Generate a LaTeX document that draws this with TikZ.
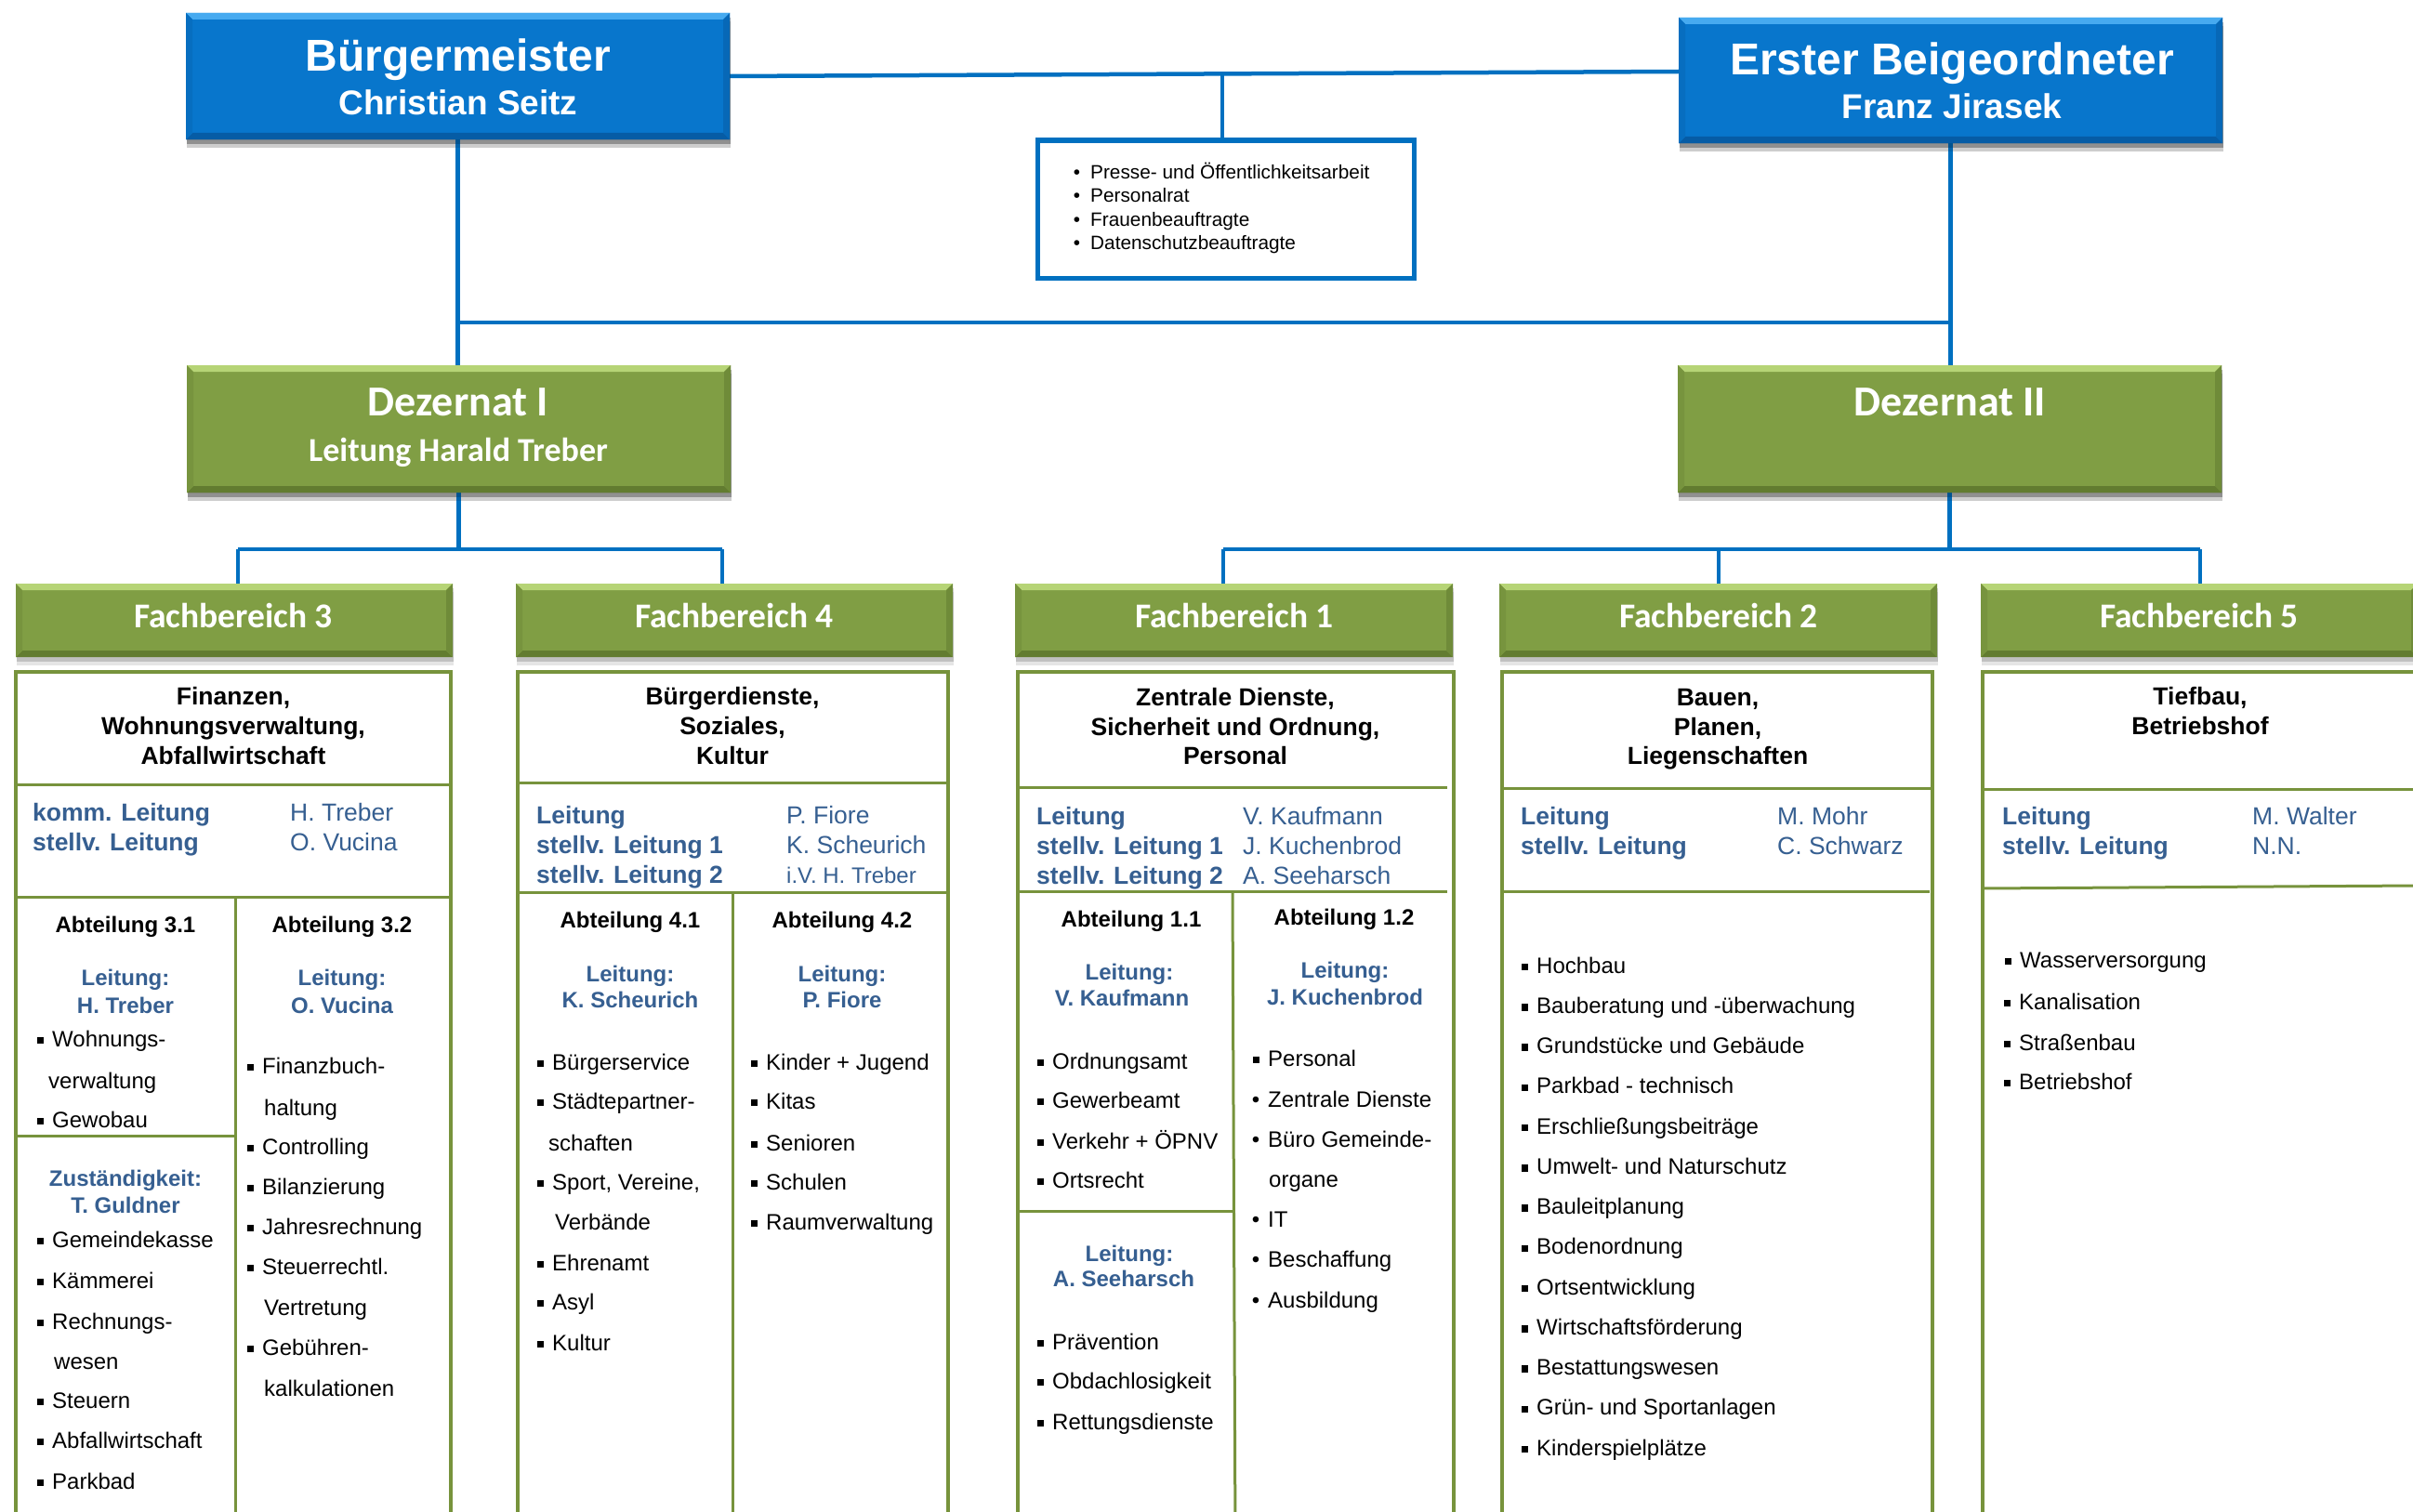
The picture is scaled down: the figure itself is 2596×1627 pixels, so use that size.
\documentclass[tikz,border=0pt]{standalone}
\usepackage{fontspec}
\setmainfont{Liberation Sans}
\newfontfamily\calf{Carlito}
\usetikzlibrary{calc,shadows}

\definecolor{blueF}{RGB}{8,118,204}
\definecolor{blueL}{RGB}{70,170,240}
\definecolor{blueD}{RGB}{6,92,165}
\definecolor{greenF}{RGB}{128,158,68}
\definecolor{greenL}{RGB}{182,212,118}
\definecolor{greenD}{RGB}{98,124,48}
\definecolor{lineblue}{RGB}{0,112,192}
\definecolor{bgreen}{RGB}{119,147,60}
\definecolor{ldblue}{RGB}{54,95,145}

\newcommand{\fbig}{\fontsize{48}{48}\selectfont\bfseries}
\newcommand{\fmid}{\fontsize{37}{37}\selectfont\bfseries}
\newcommand{\fdz}{\calf\fontsize{46}{46}\selectfont\bfseries}
\newcommand{\fdzb}{\calf\fontsize{36}{36}\selectfont\bfseries}
\newcommand{\ffb}{\calf\fontsize{37.5}{37.5}\selectfont\bfseries}
\newcommand{\fsm}{\fontsize{20.8}{20.8}\selectfont}
\newcommand{\fttl}{\fontsize{26.5}{26.5}\selectfont\bfseries}
\newcommand{\fldr}{\fontsize{26.5}{26.5}\selectfont}
\newcommand{\fitm}{\fontsize{24}{24}\selectfont}
\newcommand{\fabt}{\fontsize{24}{24}\selectfont\bfseries}
\newcommand{\sq}{\llap{\rule[2.6pt]{7.5pt}{7.5pt}\hspace{9pt}}}
\newcommand{\rb}{\llap{•\hspace{9pt}}}
\newcommand{\pb}{\llap{•\hspace{11pt}}}

\begin{document}
\begin{tikzpicture}[x=1pt,y=-1pt,
  bev/.style n args={3}{fill=#1, draw=none, path picture={
    \fill[#2] (path picture bounding box.north west) -- (path picture bounding box.north east)
      -- ([xshift=-7pt,yshift=-7pt]path picture bounding box.north east)
      -- ([xshift=7pt,yshift=-7pt]path picture bounding box.north west) -- cycle;
    \fill[#3] (path picture bounding box.south west) -- (path picture bounding box.south east)
      -- ([xshift=-7pt,yshift=7pt]path picture bounding box.south east)
      -- ([xshift=7pt,yshift=7pt]path picture bounding box.south west) -- cycle;
    \fill[#3!55!#1] (path picture bounding box.north east) -- (path picture bounding box.south east)
      -- ([xshift=-7pt,yshift=7pt]path picture bounding box.south east)
      -- ([xshift=-7pt,yshift=-7pt]path picture bounding box.north east) -- cycle;
    \fill[#3!30!#1] (path picture bounding box.north west) -- (path picture bounding box.south west)
      -- ([xshift=7pt,yshift=7pt]path picture bounding box.south west)
      -- ([xshift=7pt,yshift=-7pt]path picture bounding box.north west) -- cycle;
  }},
  shad/.style={drop shadow={shadow xshift=1pt, shadow yshift=-9pt, opacity=0.10, fill=black},
               drop shadow={shadow xshift=1pt, shadow yshift=-5pt, opacity=0.16, fill=black}},
  bluebox/.style={rectangle, inner sep=0pt, shad, bev={blueF}{blueL}{blueD}},
  greenbox/.style={rectangle, inner sep=0pt, shad, bev={greenF}{greenL}{greenD}},
  cbox/.style={rectangle, inner sep=0pt, draw=bgreen, line width=3.5pt, fill=white},
  pbox/.style={rectangle, inner sep=0pt, draw=lineblue, line width=5pt, fill=white},
  conn/.style={draw=lineblue, line width=4.5pt},
  sepl/.style={draw=bgreen, line width=3pt},
  tx/.style={inner sep=0pt, anchor=base west, text=black},
  tc/.style={inner sep=0pt, anchor=base, text=black},
  ttl/.style={tc, font=\fttl},
  ldl/.style={tx, font=\fttl, text=ldblue},
  ldn/.style={tx, font=\fldr, text=ldblue},
  abt/.style={tc, font=\fabt},
  lei/.style={tc, font=\fabt, text=ldblue},
  itm/.style={tx, font=\fitm},
  hd/.style={tc, text=white},
]
\useasboundingbox (0,0) rectangle (2596,1627);
\clip (0,0) rectangle (2596,1627);
\fill[white] (0,0) rectangle (2596,1627);

% ---------- coordinates ----------
\coordinate (h1) at (0,347);
\coordinate (pj) at (1315,79.4);
\coordinate (j3) at (256,591);
\coordinate (j4) at (777,591);
\coordinate (j1) at (1316,591);
\coordinate (j2) at (1849,591);
\coordinate (j5) at (2367,591);

% ---------- nodes (boxes) ----------
\path
  (492.5,82)   node[bluebox, minimum width=585pt, minimum height=136pt] (bm) {}
  (2098.5,86.5) node[bluebox, minimum width=585pt, minimum height=135pt] (eb) {}
  (493.5,461.5) node[greenbox, minimum width=585pt, minimum height=137pt] (d1) {}
  (2097.5,461.5) node[greenbox, minimum width=585pt, minimum height=137pt] (d2) {};

% ---------- connectors ----------
\draw[conn] (bm.east) -- ($(eb.west)+(0,-9.5)$);
\draw[conn] (bm.south) -- (bm.south |- d1.north);
\draw[conn] (eb.south) -- (eb.south |- d2.north);
\draw[conn] (bm.south |- h1) -- (eb.south |- h1);
\draw[conn] (d1.south) -- (d1.south |- j3);
\draw[conn] (d2.south) -- (d2.south |- j1);
\draw[conn] (j3) -- (j4);
\draw[conn] (j1) -- (j5);

\node[pbox, minimum width=405pt, minimum height=148pt] (pr) at (1319,225) {};
\draw[conn] (pj) -- (pj |- pr.north);

\path
  (252,667.5)  node[greenbox, minimum width=470pt, minimum height=79pt] (fb3) {}
  (790,667.5)  node[greenbox, minimum width=470pt, minimum height=79pt] (fb4) {}
  (1327.5,667.5) node[greenbox, minimum width=471pt, minimum height=79pt] (fb1) {}
  (1848.5,667.5) node[greenbox, minimum width=471pt, minimum height=79pt] (fb2) {}
  (2366,667.5) node[greenbox, minimum width=470pt, minimum height=79pt] (fb5) {};
\draw[conn] (j3) -- (j3 |- fb3.north);
\draw[conn] (j4) -- (j4 |- fb4.north);
\draw[conn] (j1) -- (j1 |- fb1.north);
\draw[conn] (j2) -- (j2 |- fb2.north);
\draw[conn] (j5) -- (j5 |- fb5.north);

% redraw boxes on top of connector ends
\path
  (492.5,82)   node[bluebox, minimum width=585pt, minimum height=136pt] (bmx) {}
  (2098.5,86.5) node[bluebox, minimum width=585pt, minimum height=135pt] (ebx) {}
  (493.5,461.5) node[greenbox, minimum width=585pt, minimum height=137pt] (d1x) {}
  (2097.5,461.5) node[greenbox, minimum width=585pt, minimum height=137pt] (d2x) {};

% ---------- content boxes ----------
\node[cbox, minimum width=468pt, minimum height=937pt] (cb3) at (251,1191.5) {};
\node[cbox, minimum width=463pt, minimum height=937pt] (cb4) at (788.5,1191.5) {};
\node[cbox, minimum width=469pt, minimum height=937pt] (cb1) at (1329.5,1191.5) {};
\node[cbox, minimum width=463pt, minimum height=937pt] (cb2) at (1847.5,1191.5) {};
\node[cbox, minimum width=477pt, minimum height=937pt] (cb5) at (2371.5,1191.5) {};

% separators
\draw[sepl] (17,844) -- (485,844);
\draw[sepl] (17,965) -- (485,965);
\draw[sepl] (253,965) -- (253,1660);
\draw[sepl] (17,1222) -- (253,1222);
\draw[sepl] (557,842) -- (1020,842);
\draw[sepl] (557,960) -- (1020,960);
\draw[sepl] (788,960) -- (788,1660);
\draw[sepl] (1095,847) -- (1557,847);
\draw[sepl] (1095,959) -- (1557,959);
\draw[sepl] (1326,959) -- (1329,1660);
\draw[sepl] (1095,1303) -- (1326,1303);
\draw[sepl] (1616,848) -- (2079,848);
\draw[sepl] (1616,959) -- (2076,959);
\draw[sepl] (2133,849) -- (2600,849);
\draw[sepl] (2133,956) -- (2600,953);

% ---------- header texts ----------
\node[hd, font=\fbig] (bmt1) at (493,77) {Bürgermeister};
\node[hd, font=\fmid] (bmt2) at (493,124) {Christian Seitz};
\node[hd, font=\fbig] (ebt1) at (2100,81) {Erster Beigeordneter};
\node[hd, font=\fmid] (ebt2) at (2100,128) {Franz Jirasek};
\node[hd, font=\fdz] (d1t1) at (493,447) {Dezernat I};
\node[hd, font=\fdzb] (d1t2) at (493,496) {Leitung Harald Treber};
\node[hd, font=\fdz] (d2t1) at (2098,447) {Dezernat II};
\node[hd, font=\ffb] (fb3t) at (251,675) {Fachbereich 3};
\node[hd, font=\ffb] (fb4t) at (790,675) {Fachbereich 4};
\node[hd, font=\ffb] (fb1t) at (1328,675) {Fachbereich 1};
\node[hd, font=\ffb] (fb2t) at (1849,675) {Fachbereich 2};
\node[hd, font=\ffb] (fb5t) at (2366,675) {Fachbereich 5};

% Presse box
\node[tx, font=\fsm] (p1) at (1173,192) {\pb Presse- und Öffentlichkeitsarbeit};
\node[tx, font=\fsm] (p2) at (1173,217.5) {\pb Personalrat};
\node[tx, font=\fsm] (p3) at (1173,243) {\pb Frauenbeauftragte};
\node[tx, font=\fsm] (p4) at (1173,268.5) {\pb Datenschutzbeauftragte};

% ---------- Fachbereich 3 ----------
\node[ttl] (t3a) at (251,758.5) {Finanzen,};
\node[ttl] (t3b) at (251,790.5) {Wohnungsverwaltung,};
\node[ttl] (t3c) at (251,822.5) {Abfallwirtschaft};
\node[ldl] (l3a) at (35,883.5) {komm. Leitung};
\node[ldl] (l3b) at (35,915.5) {stellv. Leitung};
\node[ldn] (n3a) at (312,883.5) {H. Treber};
\node[ldn] (n3b) at (312,915.5) {O. Vucina};
\node[abt] (a31) at (135,1003) {Abteilung 3.1};
\node[abt] (a32) at (368,1003) {Abteilung 3.2};
\node[lei] (a31l) at (135,1060) {Leitung:};
\node[lei] (a31n) at (135,1090) {H. Treber};
\node[lei] (a32l) at (368,1060) {Leitung:};
\node[lei] (a32n) at (368,1090) {O. Vucina};
\node[itm] (i31a) at (56,1126) {\sq Wohnungs-};
\node[itm] (i31b) at (52,1171) {verwaltung};
\node[itm] (i31c) at (56,1213) {\sq Gewobau};
\node[lei] (z3) at (135,1276) {Zuständigkeit:};
\node[lei] (z3n) at (135,1305) {T. Guldner};
\node[itm] (i31d) at (56,1342) {\sq Gemeindekasse};
\node[itm] (i31e) at (56,1386) {\sq Kämmerei};
\node[itm] (i31f) at (56,1430) {\sq Rechnungs-};
\node[itm] (i31g) at (58,1473) {wesen};
\node[itm] (i31h) at (56,1515) {\sq Steuern};
\node[itm] (i31i) at (56,1558) {\sq Abfallwirtschaft};
\node[itm] (i31j) at (56,1602) {\sq Parkbad};
\node[itm] (i32a) at (282,1155) {\sq Finanzbuch-};
\node[itm] (i32b) at (284,1200) {haltung};
\node[itm] (i32c) at (282,1242) {\sq Controlling};
\node[itm] (i32d) at (282,1285) {\sq Bilanzierung};
\node[itm] (i32e) at (282,1328) {\sq Jahresrechnung};
\node[itm] (i32f) at (282,1371) {\sq Steuerrechtl.};
\node[itm] (i32g) at (284,1415) {Vertretung};
\node[itm] (i32h) at (282,1458) {\sq Gebühren-};
\node[itm] (i32i) at (284,1502) {kalkulationen};

% ---------- Fachbereich 4 ----------
\node[ttl] (t4a) at (788,758.5) {Bürgerdienste,};
\node[ttl] (t4b) at (788,790.5) {Soziales,};
\node[ttl] (t4c) at (788,822.5) {Kultur};
\node[ldl] (l4a) at (577,886.5) {Leitung};
\node[ldl] (l4b) at (577,918.5) {stellv. Leitung 1};
\node[ldl] (l4c) at (577,950.5) {stellv. Leitung 2};
\node[ldn] (n4a) at (846,886.5) {P. Fiore};
\node[ldn] (n4b) at (846,918.5) {K. Scheurich};
\node[tx, font=\fitm, text=ldblue] (n4c) at (846,950) {i.V. H. Treber};
\node[abt] (a41) at (678,998) {Abteilung 4.1};
\node[abt] (a42) at (906,998) {Abteilung 4.2};
\node[lei] (a41l) at (678,1056) {Leitung:};
\node[lei] (a41n) at (678,1084) {K. Scheurich};
\node[lei] (a42l) at (906,1056) {Leitung:};
\node[lei] (a42n) at (906,1084) {P. Fiore};
\node[itm] (i41a) at (594,1151) {\sq Bürgerservice};
\node[itm] (i41b) at (594,1193) {\sq Städtepartner-};
\node[itm] (i41c) at (590,1238) {schaften};
\node[itm] (i41d) at (594,1280) {\sq Sport, Vereine,};
\node[itm] (i41e) at (597,1323) {Verbände};
\node[itm] (i41f) at (594,1367) {\sq Ehrenamt};
\node[itm] (i41g) at (594,1409) {\sq Asyl};
\node[itm] (i41h) at (594,1453) {\sq Kultur};
\node[itm] (i42a) at (824,1151) {\sq Kinder + Jugend};
\node[itm] (i42b) at (824,1193) {\sq Kitas};
\node[itm] (i42c) at (824,1238) {\sq Senioren};
\node[itm] (i42d) at (824,1280) {\sq Schulen};
\node[itm] (i42e) at (824,1323) {\sq Raumverwaltung};

% ---------- Fachbereich 1 ----------
\node[ttl] (t1a) at (1329,759.5) {Zentrale Dienste,};
\node[ttl] (t1b) at (1329,791.5) {Sicherheit und Ordnung,};
\node[ttl] (t1c) at (1329,822.5) {Personal};
\node[ldl] (l1a) at (1115,887.5) {Leitung};
\node[ldl] (l1b) at (1115,919.5) {stellv. Leitung 1};
\node[ldl] (l1c) at (1115,951.5) {stellv. Leitung 2};
\node[ldn] (n1a) at (1337,887.5) {V. Kaufmann};
\node[ldn] (n1b) at (1337,919.5) {J. Kuchenbrod};
\node[ldn] (n1c) at (1337,951.5) {A. Seeharsch};
\node[abt] (a11) at (1217,997) {Abteilung 1.1};
\node[abt] (a12) at (1446,995) {Abteilung 1.2};
\node[lei] (a11l) at (1215,1054) {Leitung:};
\node[lei] (a11n) at (1207,1082) {V. Kaufmann};
\node[lei] (a12l) at (1447,1052) {Leitung:};
\node[lei] (a12n) at (1447,1081) {J. Kuchenbrod};
\node[itm] (i11a) at (1132,1150) {\sq Ordnungsamt};
\node[itm] (i11b) at (1132,1192) {\sq Gewerbeamt};
\node[itm] (i11c) at (1132,1236) {\sq Verkehr + ÖPNV};
\node[itm] (i11d) at (1132,1278) {\sq Ortsrecht};
\node[lei] (a13l) at (1215,1357) {Leitung:};
\node[lei] (a13n) at (1209,1384) {A. Seeharsch};
\node[itm] (i11e) at (1132,1452) {\sq Prävention};
\node[itm] (i11f) at (1132,1494) {\sq Obdachlosigkeit};
\node[itm] (i11g) at (1132,1538) {\sq Rettungsdienste};
\node[itm] (i12a) at (1364,1147) {\sq Personal};
\node[itm] (i12b) at (1364,1191) {\rb Zentrale Dienste};
\node[itm] (i12c) at (1364,1234) {\rb Büro Gemeinde-};
\node[itm] (i12d) at (1365,1277) {organe};
\node[itm] (i12e) at (1364,1320) {\rb IT};
\node[itm] (i12f) at (1364,1363) {\rb Beschaffung};
\node[itm] (i12g) at (1364,1407) {\rb Ausbildung};

% ---------- Fachbereich 2 ----------
\node[ttl] (t2a) at (1848,759.5) {Bauen,};
\node[ttl] (t2b) at (1848,791.5) {Planen,};
\node[ttl] (t2c) at (1848,822.5) {Liegenschaften};
\node[ldl] (l2a) at (1636,887.5) {Leitung};
\node[ldl] (l2b) at (1636,919.5) {stellv. Leitung};
\node[ldn] (n2a) at (1912,887.5) {M. Mohr};
\node[ldn] (n2b) at (1912,919.5) {C. Schwarz};
\foreach \t [count=\i from 0] in {Hochbau, Bauberatung und -überwachung, Grundstücke und Gebäude,
  Parkbad - technisch, Erschließungsbeiträge, Umwelt- und Naturschutz, Bauleitplanung,
  Bodenordnung, Ortsentwicklung, Wirtschaftsförderung, Bestattungswesen,
  Grün- und Sportanlagen, Kinderspielplätze}
  {\node[itm] (i2-\i) at (1653,{1047+43.25*\i}) {\sq \t};}

% ---------- Fachbereich 5 ----------
\node[ttl] (t5a) at (2367,758.5) {Tiefbau,};
\node[ttl] (t5b) at (2367,790.5) {Betriebshof};
\node[ldl] (l5a) at (2154,887.5) {Leitung};
\node[ldl] (l5b) at (2154,919.5) {stellv. Leitung};
\node[ldn] (n5a) at (2423,887.5) {M. Walter};
\node[ldn] (n5b) at (2423,919.5) {N.N.};
\node[itm] (i5a) at (2173,1041) {\sq Wasserversorgung};
\node[itm] (i5b) at (2172,1086) {\sq Kanalisation};
\node[itm] (i5c) at (2172,1130) {\sq Straßenbau};
\node[itm] (i5d) at (2172,1172) {\sq Betriebshof};
\end{tikzpicture}
\end{document}
